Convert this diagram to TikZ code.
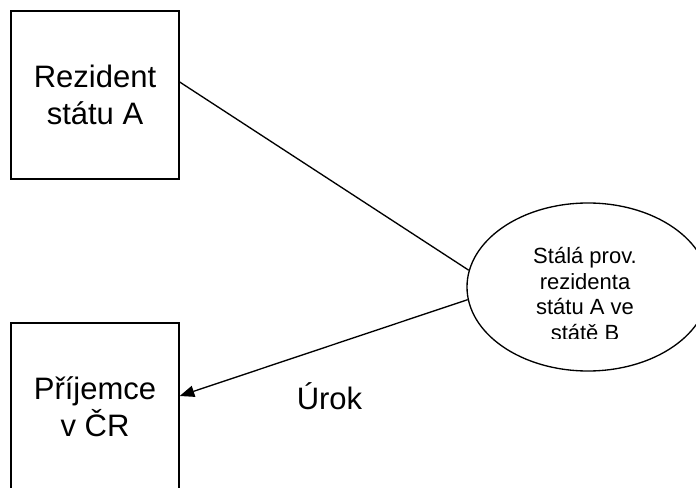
\documentclass[tikz,border=0pt]{standalone}
\usepackage{fontspec}
\setmainfont{Liberation Sans}
\usetikzlibrary{shapes.geometric,arrows.meta}
\tikzset{every picture/.style={line width=1pt}}
\tikzset{
  partybox/.style={draw, minimum width=126pt, minimum height=126pt, inner sep=0pt, align=center, font=\fontsize{23.25}{27.75}\selectfont},
  pebubble/.style={draw, ellipse, minimum width=181.5pt, minimum height=126pt, inner sep=0pt},
  petext/.style={inner sep=0pt, align=center, font=\fontsize{16.5}{19.3}\selectfont}
}

\begin{document}
\begin{tikzpicture}[x=0.75pt,y=0.75pt,yscale=-1]
\useasboundingbox (0,0) rectangle (696,488);

% Boxes
\node [partybox] (rezident) at (95,95) {Rezident\\státu A};
\node [partybox] (prijemce) at (95,407) {Příjemce\\v ČR};

% Ellipse
\node [pebubble] (provozovna) at (588,287) {};
\begin{scope}
\clip (470,200) rectangle (700,338);
\node [petext] (provtext) at (585,294) {Stálá prov.\\rezidenta\\státu A ve\\státě B};
\end{scope}

% Connectors
\draw ([yshift=-9.75pt]rezident.east) -- (provozovna.172);
\draw [-{Triangle[length=11pt,width=8.5pt]}] (provozovna.186) -- ([yshift=-8.25pt]prijemce.east);

% Text Node
\node [inner sep=0pt, font=\fontsize{23.25}{27.75}\selectfont] (urok) at (329.5,396) {Úrok};

\end{tikzpicture}
\end{document}
